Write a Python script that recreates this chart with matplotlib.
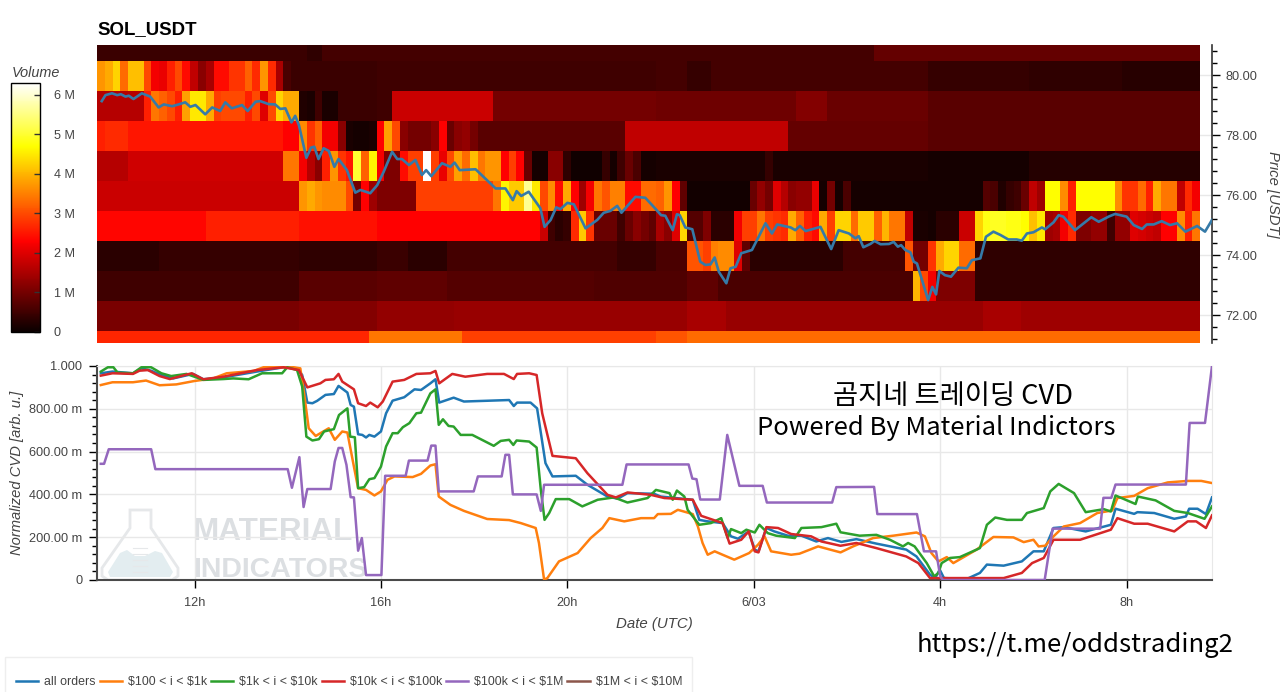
import matplotlib
matplotlib.use('Agg')
import matplotlib.pyplot as plt
import numpy as np
from matplotlib.lines import Line2D
from matplotlib.patches import Polygon, Rectangle

plt.rcParams['font.family'] = ['Liberation Sans', 'DejaVu Sans']

W, H = 1280, 692

# volume per price bin (millions), one list per price level, 10 minute columns
row_81 = [0.45]*27 + [0.35]*2 + [0.55]*71 + [0.85]*42
row_80 = [3.7, 3.9, 4.3, 3.3, 4.1, 4.1, 3.0, 2.2, 2.1, 2.6, 3.0, 2.4, 1.7, 1.2, 1.5, 2.4, 2.4, 2.8, 2.8, 3.2, 2.7, 3.7, 2.7, 1.5, 0.6] \
    + [0.45]*11 + [0.5]*36 + [0.55]*4 + [0.4]*3 + [0.55]*28 + [0.4]*13 + [0.35]*12 + [0.28]*10
row_79 = [1.6]*6 + [2.6, 3.4, 3.2, 3.0, 2.6, 3.8, 4.5, 4.5, 3.9, 2.9, 3.0, 3.0, 3.0, 2.6, 3.0, 2.0, 3.0, 4.3, 3.9, 3.9] \
    + [0.2, 0.15, 0.5, 0.15, 0.15, 0.45, 0.45, 0.45, 0.45, 0.45] + [0.5]*2 + [1.8]*13 + [1.0]*21 + [0.95]*18 + [1.15]*4 + [0.9]*13 + [0.75]*35
row_78 = [2.6] + [2.7]*3 + [2.5]*20 + [2.3]*2 + [3.6, 2.8, 3.2, 2.2, 2.2, 1.2, 0.15, 0.1, 0.1, 0.15] \
    + [2.3, 3.8, 3.0, 1.2, 1.0, 1.0, 1.0, 1.2, 2.3, 0.9, 1.2, 1.3, 1.0] + [0.75]*19 + [1.7]*21 + [0.85]*18 + [0.75]*35
row_77 = [1.6]*4 + [1.85]*20 + [3.4]*2 + [2.2, 1.6, 1.2, 2.6, 3.7, 2.8, 2.5, 5.0, 3.2, 4.6] \
    + [2.2, 1.1, 1.1, 2.4, 2.9, 2.9, 6.3, 2.9, 2.1, 3.0, 3.8, 3.3, 4.1, 3.4, 3.7, 3.7, 2.3, 2.9, 2.3] \
    + [0.9, 0.1, 0.1, 1.2, 1.2, 0.35, 0.05, 0.05, 0.05, 0.05, 0.4, 0.1, 0.5, 0.9, 0.6, 0.1, 0.1] \
    + [0.15]*14 + [0.4] + [0.15]*20 + [0.12]*13 + [0.25]*22
row_76 = [1.8]*26 + [3.7, 3.9, 3.7, 3.6, 3.6, 3.6, 3.0, 1.0, 2.3, 1.4] + [1.1]*5 + [2.9]*10 \
    + [3.4, 4.6, 4.2, 4.2, 5.6, 4.5, 3.0, 3.6, 2.4, 3.9, 2.3, 1.4, 2.2, 3.4, 3.1, 3.5, 3.5, 2.4, 2.4, 3.3, 3.3] \
    + [3.2, 3.7, 2.3, 0.8] + [0.08]*8 + [0.9, 1.3, 1.0, 2.0, 1.6, 1.2, 1.3, 1.3, 2.1, 0.1, 1.0, 0.1, 0.6] + [0.1]*17 \
    + [0.7, 0.6, 0.2, 0.4, 0.5, 0.9, 1.7, 1.4] \
    + [4.7, 4.7, 3.6, 2.6, 4.7, 4.7, 4.7, 4.7, 4.7, 3.6, 2.8, 2.8, 3.3, 2.6, 3.9, 3.4, 3.4, 1.7, 2.7, 2.2]
row_75 = [2.35]*14 + [2.6]*12 + [2.45]*10 + [2.3]*21 \
    + [1.8, 0.5, 0.3, 0.4, 2.7, 4.2, 2.8, 0.9, 0.9, 0.9, 0.5, 0.9, 1.2, 1.0, 0.8] \
    + [1.5, 1.2, 2.0, 4.3, 0.7, 0.7, 1.1, 0.3, 0.3, 0.3, 2.2, 2.9, 2.9, 3.4, 2.9, 2.8, 2.7, 3.9, 3.2, 2.6, 2.4, 3.9, 2.9, 4.3, 4.3, 3.3, 4.2, 4.2, 3.2, 4.0, 3.4, 3.4] \
    + [1.7, 0.15, 0.15, 0.1, 0.3, 0.3, 0.3, 1.8, 1.8] + [4.3, 4.8, 4.9, 4.9, 4.8, 4.8, 4.7, 4.1, 4.5] \
    + [1.4, 1.5, 2.2, 2.7, 1.1, 1.1, 1.3, 1.3, 0.5, 1.3, 1.3, 2.0, 1.9, 1.8, 1.7, 2.3, 2.3, 3.6, 2.6, 3.4]
row_74 = [0.3]*8 + [0.4]*18 + [0.35]*10 + [0.45]*4 + [0.3]*5 + [0.55]*22 + [0.4]*5 + [0.6]*4 \
    + [3.1, 3.1, 2.9, 3.5, 3.6, 3.6, 2.0, 0.8] + [0.3]*12 + [0.55]*8 + [3.1, 1.0, 1.0, 2.8, 3.9, 4.3, 4.3, 3.3, 3.3] + [0.35]*29
row_73 = [0.5]*26 + [0.75]*10 + [0.8]*9 + [0.7]*19 + [0.65]*12 + [0.8]*4 + [0.6]*25 + [4.0, 3.0, 2.2] + [1.1]*5 + [0.35]*29
row_72 = [1.05]*26 + [1.15]*10 + [1.3]*10 + [1.35]*30 + [1.5]*5 + [1.35]*33 + [1.5]*5 + [1.38]*23
row_71 = [2.65]*35 + [3.4]*12 + [2.9]*25 + [3.1]*4 + [3.3]*66

price_levels = [81, 80, 79, 78, 77, 76, 75, 74, 73, 72, 71]

# price line, hours counted from 00:00 on 6/02
price_h = [10.01, 10.09, 10.23, 10.34, 10.42, 10.52, 10.59, 10.69, 10.87, 11.05, 11.23, 11.34, 11.52, 11.66, 11.8, 11.91, 12.02, 12.23, 12.38, 12.55, 12.66, 12.8, 13.02, 13.14, 13.31, 13.41, 13.59, 13.73, 13.84, 13.95, 14.08, 14.16, 14.24, 14.4, 14.5, 14.57, 14.66, 14.77, 14.88, 15.0, 15.09, 15.27, 15.45, 15.56, 15.77, 15.92,
           16.06, 16.24, 16.35, 16.45, 16.6, 16.74, 16.88, 16.97, 17.08, 17.31, 17.49, 17.58, 17.69, 18.03, 18.46, 18.67, 18.83, 18.91, 19.01, 19.17, 19.42, 19.51, 19.64, 19.76, 19.85, 20.0, 20.14, 20.39, 20.64, 20.78, 20.92, 21.07, 21.16, 21.46, 21.67, 21.85,
           22.01, 22.1, 22.26, 22.35, 22.41, 22.53, 22.68, 22.85, 22.96, 23.07, 23.16, 23.25, 23.41, 23.5, 23.61, 23.73, 23.96, 24.25, 24.39, 24.5, 24.79, 24.89, 24.99, 25.11, 25.43, 25.66, 25.82, 26.04, 26.18, 26.25, 26.35, 26.5, 26.59, 26.72, 26.9, 27.0, 27.09, 27.16, 27.25, 27.36, 27.43, 27.5,
           27.74, 27.83, 27.91, 27.98, 28.1, 28.23, 28.39, 28.57, 28.68, 28.86, 28.98, 29.14, 29.29, 29.46, 29.64, 29.75, 29.86, 30.0, 30.18, 30.25, 30.43, 30.54, 30.64, 30.89, 31.24, 31.4, 31.61, 31.75, 32.0, 32.15, 32.33, 32.43, 32.58, 32.75, 32.93, 33.08, 33.26, 33.51, 33.68, 33.83]
price_v = [79.13, 79.33, 79.39, 79.33, 79.36, 79.28, 79.31, 79.2, 79.39, 79.28, 78.92, 79.02, 78.96, 79.02, 79.09, 78.94, 79.0, 78.69, 78.92, 78.8, 79.09, 78.89, 79.0, 78.8, 79.11, 79.13, 79.03, 79.02, 78.87, 78.89, 78.42, 78.64, 78.33, 77.24, 77.58, 77.61, 77.2, 77.56, 77.47, 76.94, 77.2, 76.83, 76.08, 76.17, 76.06, 76.33,
           76.78, 77.44, 77.2, 77.2, 77.0, 77.17, 76.67, 76.83, 76.63, 77.06, 76.94, 77.08, 76.83, 76.86, 76.22, 76.22, 75.83, 76.13, 75.97, 76.11, 75.56, 74.94, 75.17, 75.59, 75.53, 75.74, 75.69, 74.89, 75.17, 75.41, 75.47, 75.64, 75.41, 75.94, 75.91, 75.61,
           75.33, 75.31, 74.83, 75.36, 75.33, 74.92, 74.86, 73.78, 73.67, 73.69, 73.92, 73.44, 73.06, 73.56, 73.61, 74.06, 74.17, 75.06, 74.72, 75.02, 74.92, 74.83, 74.97, 74.8, 74.94, 74.2, 74.83, 74.72, 74.56, 74.63, 74.26, 74.37, 74.47, 74.36, 74.37, 74.44, 74.28, 74.33, 74.17, 74.09, 73.78, 73.72,
           72.5, 72.94, 72.69, 73.47, 73.33, 73.28, 73.58, 73.56, 73.83, 73.89, 74.61, 74.78, 74.67, 74.52, 74.52, 74.48, 74.72, 74.76, 74.92, 74.86, 75.09, 75.33, 75.28, 74.83, 75.26, 75.11, 75.28, 75.37, 75.28, 75.0, 74.87, 75.02, 75.02, 75.13, 75.0, 75.06, 74.78, 74.97, 74.78, 75.17]

# normalized CVD per order size (milli units)
all_h = [9.99, 10.24, 10.68, 10.86, 11.07, 11.29, 11.54, 11.97, 12.19, 12.62, 13.34, 13.91, 14.2, 14.31, 14.42, 14.53, 14.63, 14.81, 14.99, 15.09, 15.28, 15.35, 15.42, 15.51, 15.6, 15.68, 15.75, 15.86, 16.0, 16.11, 16.25, 16.5, 16.72, 16.86,
         17.06, 17.17, 17.25, 17.56, 17.78, 18.75, 18.85, 18.92, 19.21, 19.35, 19.53, 19.68, 20.18, 20.43, 20.86, 21.08, 21.29, 21.86, 22.0, 22.69, 22.83, 23.01, 23.33, 23.51, 23.66, 23.89, 24.02, 24.1, 24.27, 24.44, 24.73, 25.02, 25.34, 25.59, 25.88,
         26.2, 26.63, 27.27, 27.49, 27.78, 27.89, 27.99, 28.08, 28.57, 28.85, 29.0, 29.36, 29.75, 30.0, 30.22, 30.43, 30.65, 31.12, 31.66, 31.76, 32.16, 32.23, 32.59, 33.02, 33.27, 33.34, 33.52, 33.7, 33.83]
all_v = [966, 974, 966, 989, 978, 958, 942, 963, 938, 947, 974, 994, 989, 958, 829, 826, 837, 865, 869, 907, 876, 818, 810, 681, 678, 666, 678, 670, 694, 779, 838, 854, 891, 888,
         919, 938, 829, 852, 834, 841, 813, 829, 829, 802, 546, 484, 487, 445, 390, 380, 406, 403, 390, 375, 281, 274, 266, 204, 193, 227, 142, 134, 243, 227, 207, 207, 180, 196, 178,
         191, 170, 142, 110, 25, 9, 48, 9, 5, 33, 72, 67, 87, 134, 134, 243, 247, 227, 258, 333, 309, 317, 313, 286, 297, 333, 333, 308, 386]

small_h = [9.99, 10.24, 10.68, 10.96, 11.25, 11.61, 12.0, 12.4, 12.69, 13.27, 13.48, 14.13, 14.27, 14.35, 14.45, 14.6, 14.88, 15.01, 15.17, 15.28, 15.42, 15.51, 15.68, 15.86, 16.0, 16.14, 16.29, 16.68, 16.86,
           17.06, 17.17, 17.24, 17.49, 17.78, 18.28, 18.75, 19.0, 19.32, 19.39, 19.5, 19.57, 19.82, 20.22, 20.5, 20.75, 20.9, 21.22, 21.58, 21.86, 21.94, 22.22, 22.37, 22.69, 22.8, 22.9, 23.01, 23.16, 23.33, 23.58, 23.9, 24.09, 24.23, 24.37, 24.8, 24.98, 25.38, 25.86,
           26.13, 26.56, 26.99, 27.49, 27.67, 27.81, 27.96, 28.14, 28.28, 28.78, 29.14, 29.57, 29.79, 30.0, 30.11, 30.25, 30.43, 30.65, 31.0, 31.37, 31.69, 31.8, 32.16, 32.45, 32.88, 33.31, 33.6, 33.83]
small_v = [911, 924, 924, 932, 910, 914, 930, 942, 966, 977, 994, 994, 989, 873, 709, 673, 709, 655, 694, 689, 530, 429, 421, 395, 414, 468, 484, 481, 496,
           535, 541, 390, 351, 323, 285, 280, 266, 243, 173, 2, 9, 87, 126, 196, 243, 289, 274, 289, 289, 308, 309, 328, 308, 250, 173, 118, 134, 118, 95, 126, 165, 204, 134, 118, 123, 157, 129,
           157, 196, 207, 222, 204, 126, 87, 107, 79, 142, 201, 199, 177, 188, 157, 160, 204, 250, 266, 313, 325, 383, 393, 429, 456, 463, 463, 453]

mid_h = [9.99, 10.14, 10.26, 10.35, 10.68, 10.86, 11.07, 11.29, 11.5, 11.83, 12.19, 12.62, 12.83, 13.16, 13.45, 13.88, 13.99, 14.2, 14.31, 14.4, 14.53, 14.67, 14.78, 14.99, 15.1, 15.28, 15.34, 15.44, 15.51, 15.64, 15.75, 15.86, 16.0, 16.11, 16.25, 16.36, 16.47, 16.61, 16.76, 16.86,
         17.06, 17.17, 17.24, 17.33, 17.45, 17.56, 17.71, 17.96, 18.42, 18.57, 18.75, 18.84, 18.91, 19.18, 19.34, 19.43, 19.51, 19.61, 19.75, 20.04, 20.32, 20.65, 21.0, 21.29, 21.72, 21.9, 22.19, 22.26, 22.35, 22.51, 22.58, 22.83, 23.08, 23.3, 23.44, 23.51, 23.73, 23.84, 24.02, 24.12, 24.3, 24.48, 24.88, 25.02, 25.45, 25.77, 25.86,
         26.27, 26.63, 26.92, 27.2, 27.31, 27.45, 27.71, 27.87, 27.96, 28.03, 28.21, 28.42, 28.85, 29.0, 29.18, 29.43, 29.75, 29.86, 30.22, 30.36, 30.54, 30.87, 31.12, 31.51, 31.66, 31.76, 32.19, 32.24, 32.62, 33.02, 33.31, 33.67, 33.83]
mid_v = [974, 994, 994, 969, 966, 994, 994, 966, 953, 963, 935, 939, 942, 938, 966, 966, 994, 981, 904, 670, 652, 658, 694, 705, 771, 802, 670, 667, 429, 434, 471, 476, 530, 624, 686, 686, 714, 733, 779, 782,
         872, 891, 725, 751, 720, 717, 678, 678, 627, 650, 655, 631, 652, 647, 619, 421, 281, 313, 378, 378, 344, 375, 386, 362, 383, 421, 406, 375, 418, 390, 328, 258, 266, 289, 196, 238, 219, 235, 222, 258, 219, 207, 196, 243, 247, 263, 223,
         207, 211, 188, 157, 173, 157, 79, 17, 33, 79, 103, 107, 149, 258, 292, 281, 281, 313, 336, 414, 449, 406, 317, 331, 320, 395, 355, 390, 372, 323, 313, 286, 344]

large_h = [9.99, 10.24, 10.68, 10.82, 11.0, 11.25, 11.47, 11.94, 12.19, 12.62, 13.34, 13.91, 14.24, 14.42, 14.7, 14.81, 14.99, 15.09, 15.17, 15.42, 15.51, 15.68, 15.77, 15.93, 16.04, 16.25, 16.5, 16.76, 16.86,
           17.06, 17.17, 17.25, 17.53, 17.81, 18.28, 18.64, 18.85, 18.92, 19.18, 19.34, 19.46, 19.68, 20.18, 20.43, 20.86, 21.04, 21.29, 21.79, 22.08, 22.69, 22.87, 23.33, 23.48, 23.73, 23.89, 24.02, 24.1, 24.27, 24.52, 24.8, 25.23, 25.45, 25.86,
           26.2, 26.63, 27.27, 27.53, 27.78, 27.99, 28.71, 29.36, 29.75, 29.97, 30.22, 30.43, 31.0, 31.66, 31.8, 32.16, 32.45, 33.02, 33.31, 33.49, 33.7, 33.83]
large_v = [955, 966, 963, 978, 981, 953, 939, 966, 938, 950, 981, 994, 981, 900, 919, 935, 938, 963, 927, 891, 826, 813, 829, 807, 834, 927, 935, 963, 964,
           966, 977, 919, 963, 950, 963, 963, 939, 963, 966, 958, 779, 580, 569, 499, 398, 386, 409, 398, 383, 375, 300, 266, 170, 188, 227, 134, 129, 247, 243, 215, 204, 180, 160,
           173, 149, 110, 79, 9, 9, 9, 9, 33, 79, 103, 188, 188, 235, 289, 263, 263, 227, 274, 274, 243, 302]

whale_h = [9.99, 10.06, 10.16, 11.07, 11.16, 14.0, 14.09, 14.25, 14.34, 14.42, 14.92, 15.01, 15.09, 15.17, 15.26, 15.35, 15.42, 15.51, 15.59, 15.68, 16.01, 16.09, 16.53, 16.6,
           17.0, 17.08, 17.17, 17.24, 17.99, 18.08, 18.59, 18.67, 18.75, 18.83, 19.34, 19.43, 19.5, 21.18, 21.27, 22.6, 22.68, 22.77, 22.85, 23.27, 23.43, 23.69, 24.19, 24.28, 25.68, 25.77,
           26.58, 26.65, 27.5, 27.65, 27.91, 28.0, 28.06, 30.24, 30.41, 31.43, 31.5, 31.67, 31.76, 33.27, 33.35, 33.68, 33.83]
whale_v = [543, 543, 611, 611, 518, 518, 431, 574, 341, 425, 425, 554, 617, 617, 538, 387, 386, 137, 196, 23, 23, 487, 487, 558,
           558, 628, 628, 414, 414, 484, 484, 585, 585, 400, 400, 323, 445, 445, 540, 540, 474, 471, 376, 376, 678, 440, 440, 362, 362, 434,
           435, 308, 308, 134, 134, 17, 0, 0, 240, 240, 384, 384, 446, 446, 734, 734, 1000]

cvd_labels = ['all orders', r'\$100 < i < \$1k', r'\$1k < i < \$10k', r'\$10k < i < \$100k', r'\$100k < i < \$1M', r'\$1M < i < \$10M']
cvd_colors = ['#1f77b4', '#ff7f0e', '#2ca02c', '#d62728', '#9467bd', '#8c564b']

cvd_ticks = [0, 200, 400, 600, 800, 1000]
cvd_ticklabels = ['0', '200.00 m', '400.00 m', '600.00 m', '800.00 m', '1.000']
hour_ticks = [12, 16, 20, 24, 28, 32]
hour_labels = ['12h', '16h', '20h', '6/03', '4h', '8h']
price_ticks = [72, 74, 76, 78, 80]
volume_ticks = [0, 1, 2, 3, 4, 5, 6]
volume_labels = ['0', '1 M', '2 M', '3 M', '4 M', '5 M', '6 M']


def box(left, top, right, bottom):
    # pixel box to figure fractions
    return [left / W, 1 - bottom / H, (right - left) / W, (bottom - top) / H]


TEXT = '#444444'
GRID = '#e8e8e8'
t0, t1 = 9.908, 33.83

fig = plt.figure(figsize=(W / 100, H / 100), dpi=100, facecolor='white')

# --- heatmap + price ---
ax = fig.add_axes(box(97, 45, 1212, 343))
volume = np.array([row_81, row_80, row_79, row_78, row_77, row_76, row_75, row_74, row_73, row_72, row_71])
x_edges = t0 + np.arange(volume.shape[1] + 1) / 6
y_edges = np.array(price_levels + [price_levels[-1] - 1]) + 0.48
mesh = ax.pcolormesh(x_edges, y_edges, volume, cmap='hot', vmin=0, vmax=6.3, zorder=2, linewidth=0, rasterized=True)
ax.plot(price_h, price_v, color='#357aa8', lw=1.9, zorder=3, solid_joinstyle='round')
ax.set_xlim(t0, t1)
ax.set_ylim(71.07, 81.0)
ax.yaxis.tick_right()
ax.set_yticks(price_ticks)
ax.set_yticklabels(['%.2f' % p for p in price_ticks])
ax.set_yticks(np.arange(71.2, 81, 0.4), minor=True)
ax.set_xticks([])
ax.grid(axis='y', color=GRID, lw=1, zorder=0)
ax.set_axisbelow(True)
ax.tick_params(axis='y', which='major', length=5.5, width=1, labelsize=9.2, labelcolor=TEXT, pad=4)
ax.tick_params(axis='y', which='minor', length=3.5, width=1)
for side in ['left', 'top', 'bottom']:
    ax.spines[side].set_visible(False)
ax.spines['right'].set_linewidth(1.2)
ax.spines['right'].set_color('#333333')
ax.yaxis.set_label_position('right')
ax.set_ylabel('Price [USDT]', rotation=270, style='italic', fontsize=10.7, color=TEXT, labelpad=0)
ax.yaxis.set_label_coords(1 + 68 / 1115, 0.5)
fig.text(97 / W, 1 - 34 / H, 'SOL_USDT', fontsize=13.4, fontweight='bold', color='black')

# --- volume colorbar ---
cax = fig.add_axes(box(11, 83, 40, 332))
cbar = fig.colorbar(mesh, cax=cax)
cbar.set_ticks(volume_ticks, labels=volume_labels)
cbar.ax.tick_params(length=4, width=1, direction='in', labelsize=9.1, labelcolor=TEXT, pad=10, color='#333333')
cbar.outline.set_edgecolor('black')
cbar.outline.set_linewidth(1)
cbar.ax.minorticks_off()
fig.text(12 / W, 1 - 77 / H, 'Volume', style='italic', fontsize=10.4, color=TEXT)

# --- watermark behind the CVD panel ---
wm = fig.add_axes(box(97, 366, 1212, 580), zorder=0)
wm.set_xlim(97, 1212)
wm.set_ylim(580, 366)
wm.axis('off')
flask = [(130, 510), (151, 510), (151, 528), (178, 568), (178, 576), (172, 580), (108, 580), (102, 576), (102, 568), (130, 528)]
liquid = [(108, 572), (120, 553), (127, 550), (135, 556), (145, 556), (155, 551), (162, 553), (173, 572), (170, 577), (110, 577)]
wm.add_patch(Polygon(liquid, closed=True, facecolor='#e3edf0', edgecolor='none'))
wm.add_patch(Polygon(flask, closed=True, facecolor='none', edgecolor='#e6e8ea', lw=2))
for y_mark in [548, 554, 560, 566, 572]:
    wm.plot([133, 147], [y_mark, y_mark], color='#e6e8ea', lw=0.8)
wm.text(193, 540, 'MATERIAL', fontweight='bold', fontsize=22.7, color='#dcdfe2')
wm.text(193, 577, 'INDICATORS', fontweight='bold', fontsize=20.5, color='#dcdfe2')

# --- CVD lines ---
bx = fig.add_axes(box(97, 366, 1212, 580), zorder=1)
bx.patch.set_alpha(0)
series = [(all_h, all_v), (small_h, small_v), (mid_h, mid_v), (large_h, large_v), (whale_h, whale_v)]
for (hh, vv), color, name in zip(series, cvd_colors, cvd_labels):
    bx.plot(hh, vv, color=color, lw=1.8, label=name, solid_joinstyle='round', zorder=3)
bx.set_xlim(t0, t1)
bx.set_ylim(0, 1000)
bx.set_xticks(hour_ticks)
bx.set_xticklabels(hour_labels)
bx.set_yticks(cvd_ticks)
bx.set_yticklabels(cvd_ticklabels)
bx.set_yticks(np.arange(0, 1001, 40), minor=True)
bx.grid(True, which='major', color=GRID, lw=1)
bx.set_axisbelow(True)
bx.tick_params(which='major', length=5.5, width=1, labelsize=9.2, labelcolor=TEXT, pad=5)
bx.tick_params(axis='x', pad=7)
bx.tick_params(which='minor', length=3.5, width=1)
for side in ['top', 'right']:
    bx.spines[side].set_color(GRID)
for side in ['left', 'bottom']:
    bx.spines[side].set_linewidth(1.5)
    bx.spines[side].set_color('#4a4a4a')
bx.set_xlabel('Date (UTC)', style='italic', fontsize=10.8, color=TEXT)
bx.xaxis.set_label_coords(0.5, -(624 - 580) / 214, transform=bx.transAxes)
bx.xaxis.label.set_verticalalignment('center')
bx.set_ylabel('Normalized CVD [arb. u.]', style='italic', fontsize=10.6, color=TEXT)
bx.yaxis.set_label_coords(-80 / 1115, 0.5)
bx.yaxis.label.set_verticalalignment('center')

# legend along the bottom edge, the frame runs off the figure
fig.add_artist(Rectangle((5 / W, 1 - 702 / H), 687 / W, 45 / H, transform=fig.transFigure,
                         facecolor='white', edgecolor='#eeeeee', lw=1))
handles = [Line2D([], [], color=c, lw=1.8) for c in cvd_colors]
leg = fig.legend(handles, cvd_labels, loc='center left', bbox_to_anchor=(16 / W, 1 - 682 / H), ncol=6,
                 fontsize=8.9, frameon=False, labelcolor=TEXT, handlelength=1.8, handletextpad=0.5,
                 columnspacing=0.3, borderpad=0, borderaxespad=0)

# overlaid captions
kr = ['Noto Sans CJK KR', 'DejaVu Sans']
fig.text(953 / W, 1 - 396 / H, '곰지네 트레이딩 CVD', family=kr, fontsize=19.7, fontweight='medium', color='black', ha='center', va='center', zorder=5)
fig.text(936 / W, 1 - 428 / H, 'Powered By Material Indictors', family=kr, fontsize=18.4, fontweight='medium', color='black', ha='center', va='center', zorder=5)
fig.text(1075 / W, 1 - 645 / H, 'https://t.me/oddstrading2', family=kr, fontsize=18.5, fontweight='medium', color='black', ha='center', va='center', zorder=5)

fig.savefig('out.png', dpi=100)
